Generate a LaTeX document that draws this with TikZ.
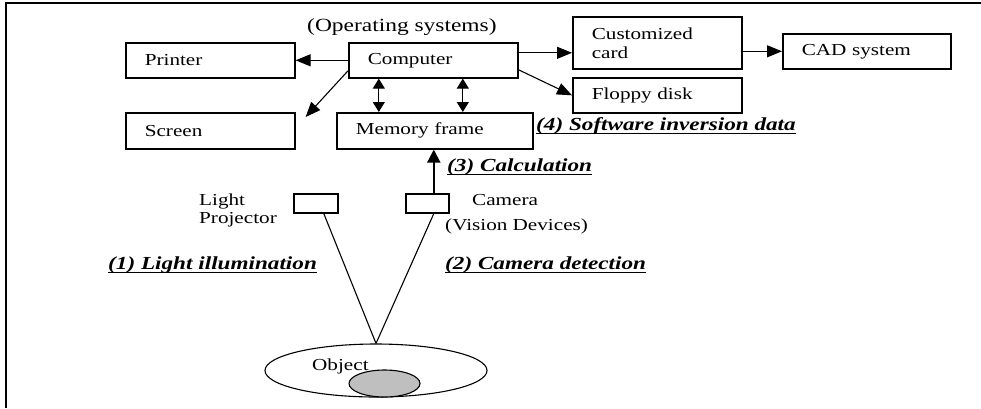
\documentclass[tikz,border=0pt]{standalone}
\usepackage{fontspec}
\setmainfont{Liberation Serif}[FakeStretch=1.26]
\usetikzlibrary{arrows.meta,shapes.geometric,calc}
\newcommand\myul[1]{\setbox0\hbox{#1}\rlap{\rule[-4.4pt]{\wd0}{1.6pt}}\box0}
\begin{document}
\begin{tikzpicture}[x=1pt,y=-1pt,
  every node/.style={font=\fontsize{16.8}{19}\selectfont},
  box/.style={draw, line width=1.6pt, rectangle, anchor=north west, inner xsep=19pt, inner ysep=0pt, align=left},
  smallbox/.style={draw, line width=1.6pt, rectangle, anchor=north west, inner sep=0pt},
  lbl/.style={anchor=base west, inner sep=0pt},
  blbl/.style={anchor=base west, inner sep=0pt, font=\fontsize{18.4}{22}\selectfont\bfseries\itshape},
  arr/.style={line width=1.1pt, -{Triangle[length=15pt,width=12pt]}},
  darr/.style={line width=1.1pt, {Triangle[length=10pt,width=12pt]}-{Triangle[length=10pt,width=12pt]}},
  carr/.style={line width=2pt, -{Triangle[length=13pt,width=13pt]}},
  ray/.style={line width=1.1pt}
]
\useasboundingbox (0,0) rectangle (981,408);
% frame
\draw[line width=2pt] (6,408) -- (6,3) -- (981,3);

% boxes
\node[box, minimum width=169pt, minimum height=35pt, text width=131pt] (printer) at (125,42) {Printer};
\node[box, minimum width=169pt, minimum height=35pt, text width=131pt] (computer) at (348,42) {Computer};
\node[box, minimum width=169pt, minimum height=36pt, text width=131pt] (screen) at (125,112) {Screen};
\node[box, minimum width=196pt, minimum height=36pt, text width=158pt, inner xsep=18pt] (memory) at (336,112) {Memory frame};
\node[box, minimum width=169pt, minimum height=52pt, text width=131pt] (card) at (572,16) {Customized\\card};
\node[box, minimum width=168pt, minimum height=35pt, text width=130pt] (cad) at (782,33) {CAD system};
\node[box, minimum width=169pt, minimum height=35pt, text width=131pt] (floppy) at (572,77) {Floppy disk};
\node[smallbox, minimum width=44pt, minimum height=19pt] (proj) at (293,193) {};
\node[smallbox, minimum width=43pt, minimum height=19pt] (cam) at (405,193) {};

% object
\node[draw, ellipse, line width=1.1pt, minimum width=222pt, minimum height=53pt, inner sep=0pt] (obj) at (376,370.5) {};
\node[draw, ellipse, line width=1.1pt, fill=gray!50, minimum width=71pt, minimum height=27pt, inner sep=0pt] (core) at (384.5,383.5) {};

% labels
\node[lbl, font=\fontsize{18.6}{22}\selectfont] (os) at (307,31) {(Operating systems)};
\node[lbl] (light) at (199,205) {Light};
\node[lbl] (projector) at (199,223) {Projector};
\node[lbl] (camera) at (472,205) {Camera};
\node[lbl] (vision) at (445,230) {(Vision Devices)};
\node[lbl] (object) at (312,370) {Object};
\node[blbl] (l1) at (108,269) {\myul{(1) Light illumination}};
\node[blbl] (l2) at (445,269) {\myul{(2) Camera detection}};
\node[blbl] (l3) at (447,171) {\myul{(3) Calculation}};
\node[blbl] (l4) at (536,130) {\myul{(4) Software inversion data}};

% connectors
\draw[arr] (computer.west) -- (printer.east);
\draw[arr] ([yshift=-10.5pt]computer.west) -- ([xshift=10pt,yshift=-5pt]screen.north east);
\draw[arr] ([yshift=7.5pt]computer.east) -- ([yshift=7.5pt]computer.east -| card.west);
\draw[arr] (card.east |- cad.west) -- (cad.west);
\draw[arr] ([yshift=-9.5pt]computer.east) -- (floppy.west);
\draw[darr] ([xshift=-54.5pt]computer.south) -- ([xshift=-54.5pt]computer.south |- memory.north);
\draw[darr] ([xshift=29.5pt]computer.south) -- ([xshift=29.5pt]computer.south |- memory.north);
\draw[carr] ([xshift=6.5pt]cam.north) -- ([xshift=6.5pt]cam.north |- memory.south);
\draw[ray] ([xshift=8pt]proj.south) -- (obj.north);
\draw[ray] ([xshift=6.5pt]cam.south) -- (obj.north);
\end{tikzpicture}
\end{document}
